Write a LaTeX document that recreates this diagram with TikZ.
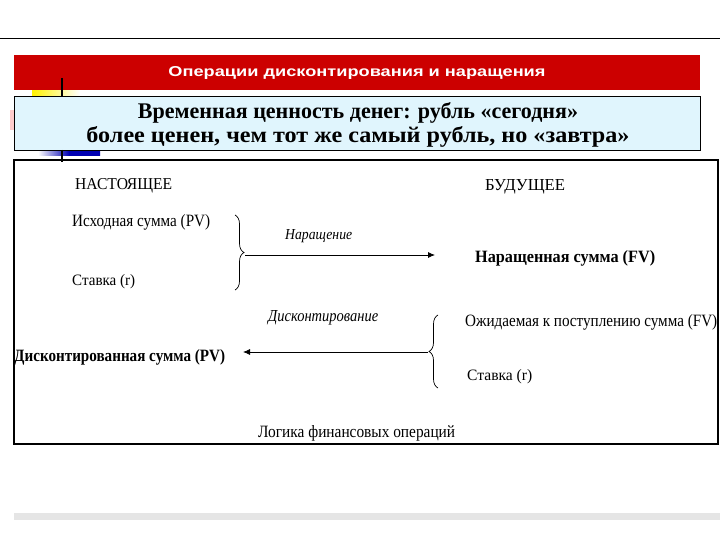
\documentclass[tikz,border=0pt]{standalone}
\usepackage{fontspec}
\setmainfont{Liberation Serif}
\newfontfamily\hsans{Liberation Sans}
\usetikzlibrary{decorations.pathreplacing,arrows.meta}
\newcommand{\sq}[3]{\resizebox{#1pt}{#2pt}{#3}}
\begin{document}
\begin{tikzpicture}[x=1pt,y=-1pt,
  lbl/.style={inner sep=0pt,anchor=west},
  arr/.style={draw,line width=0.8pt,-{Latex[length=7pt,width=6pt]}},
  br/.style={draw,line width=0.7pt,decorate,decoration={brace,amplitude=9pt}}]
\useasboundingbox (0,0) rectangle (720,540);
\fill[white] (0,0) rectangle (720,540);
\draw[line width=0.8pt] (0,38) -- (720,38);
% decorations
\shade[left color=yellow!90!orange,right color=white] (32,90) rectangle (80,96);
\shade[left color=white,right color=blue!70!black,middle color=blue!70!black] (38,150) rectangle (100,156);
\fill[red!20] (10,110) rectangle (14,130);
\fill[red!80!black] (14,55) rectangle (700,90);
\node[inner sep=0pt] (title) at (357,73) {\sq{377}{10}{\hsans\bfseries\color{white}Операции дисконтирования и наращения}};
\draw[line width=0.5pt, fill=cyan!12] (14,96) rectangle (700,150);
\node[inner sep=0pt] (sub1) at (358,113) {\sq{440}{16}{\bfseries Временная ценность денег: рубль «сегодня»}};
\node[inner sep=0pt] (sub2) at (358,137) {\sq{543}{16}{\bfseries более ценен, чем тот же самый рубль, но «завтра»}};
\draw[line width=1.2pt] (62,78) -- (62,96);
\draw[line width=1.2pt] (62,150) -- (62,162);
\draw[line width=2pt] (14,160) rectangle (718,444);
\fill[gray!20] (14,513) rectangle (728,520);
% content
\node[lbl] (now) at (75,186) {\sq{97}{11}{НАСТОЯЩЕЕ}};
\node[lbl] (fut) at (485,187) {\sq{80}{11}{БУДУЩЕЕ}};
\node[lbl] (pv) at (72,222) {\sq{138}{12}{Исходная сумма (PV)}};
\node[lbl] (r1) at (72,282) {\sq{63}{11}{Ставка (r)}};
\node[lbl] (nar) at (285,236) {\sq{67}{10}{\itshape Наращение}};
\node[lbl] (fv) at (475,258) {\sq{180}{12}{\bfseries Наращенная сумма (FV)}};
\draw[br] (235,215) -- (235,290);
\coordinate (b1t) at (245,255);
\coordinate (a1e) at (435,255);
\draw[arr] (b1t) -- (a1e);
\node[lbl] (dis) at (268,318) {\sq{110}{11}{\itshape Дисконтирование}};
\node[lbl] (ofv) at (465,322) {\sq{252}{12}{Ожидаемая к поступлению сумма (FV)}};
\node[lbl] (r2) at (467,377) {\sq{65}{11}{Ставка (r)}};
\node[lbl] (dpv) at (14,357) {\sq{211}{12}{\bfseries Дисконтированная сумма (PV)}};
\draw[br] (438,388) -- (438,315);
\coordinate (b2t) at (428,352);
\coordinate (a2e) at (243,352);
\draw[arr] (b2t) -- (a2e);
\node[lbl] (log) at (258,433) {\sq{197}{12}{Логика финансовых операций}};
\end{tikzpicture}
\end{document}
